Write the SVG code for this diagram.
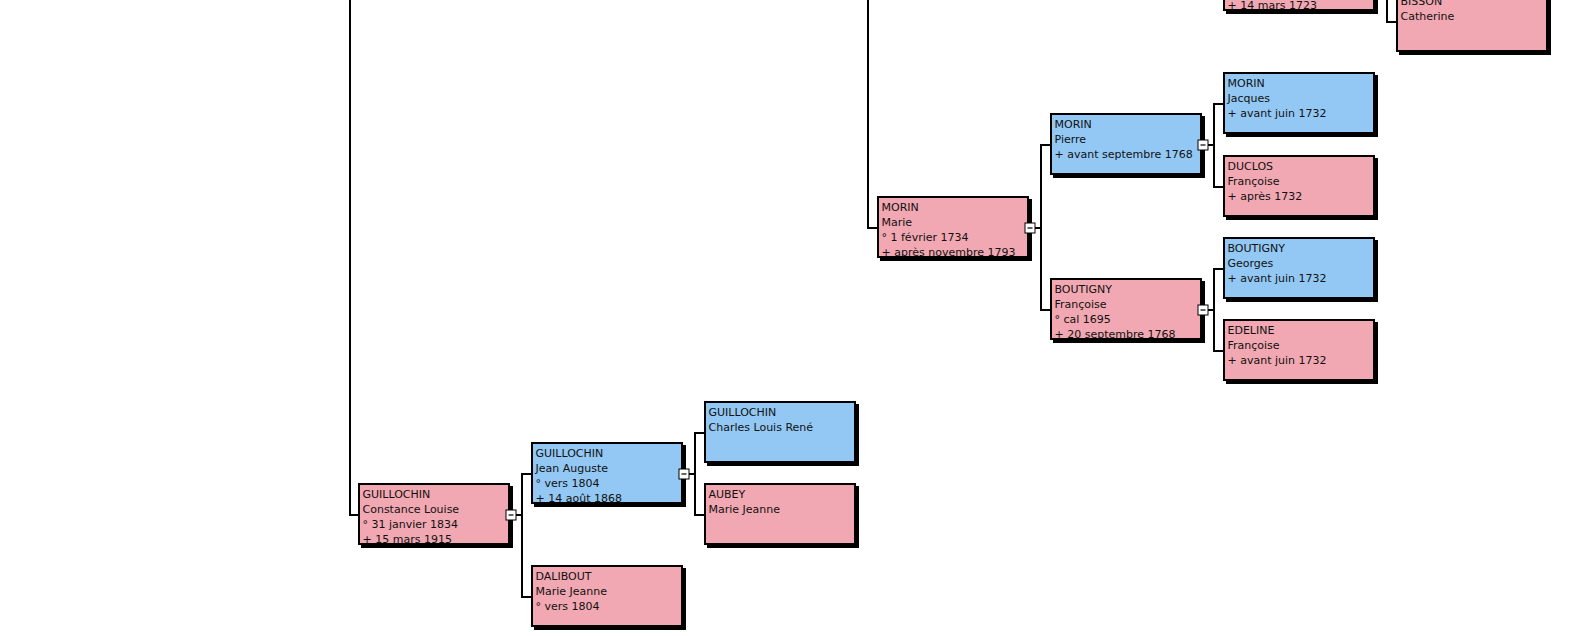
<svg xmlns="http://www.w3.org/2000/svg" width="1593" height="636" viewBox="0 0 1593 636">
<style>
.bg{fill:#ffffff}
.sh{fill:#000000}
.m{fill:#93C8F4;stroke:#000;stroke-width:2}
.f{fill:#F1A8B2;stroke:#000;stroke-width:2}
.t{font-family:"DejaVu Sans","Verdana",sans-serif;font-size:11px;fill:#111}
.conn{fill:none;stroke:#000;stroke-width:2}
.ic{fill:#fff;stroke:#000;stroke-width:1}
.icm{stroke:#000;stroke-width:1.2}
</style>
<defs>
<g id="icon">
<rect class="ic" x="-5" y="-5" width="10" height="10"/>
<line class="icm" x1="-2.5" y1="0" x2="2.5" y2="0"/>
</g>
</defs>
<rect class="bg" x="0" y="0" width="1593" height="636"/>
<g id="connectors">
<path class="conn" d="M350,-2 V515 H358"/>
<path class="conn" d="M516,515 H522 M531,474 H522 V597 H531"/>
<path class="conn" d="M689,474 H695 M704,433 H695 V515 H704"/>
<path class="conn" d="M868,-2 V228 H877"/>
<path class="conn" d="M1035,228 H1041 M1050,145 H1041 V310 H1050"/>
<path class="conn" d="M1208,145 H1214 M1223,104 H1214 V187 H1223"/>
<path class="conn" d="M1208,310 H1214 M1223,269 H1214 V351 H1223"/>
<path class="conn" d="M1387,-2 V22 H1396"/>
</g>
<g id="n-top" transform="translate(1223,-51)">
<rect class="sh" x="3" y="3" width="152" height="62"/>
<rect class="f" x="1" y="1" width="150" height="60"/>
<text class="t" x="4.5" y="60">+ 14 mars 1723</text>
</g>
<g id="n-bisson" transform="translate(1396,-10)">
<rect class="sh" x="3" y="3" width="152" height="62"/>
<rect class="f" x="1" y="1" width="150" height="60"/>
<text class="t" x="4.5" y="15">BISSON</text>
<text class="t" x="4.5" y="30">Catherine</text>
</g>
<g id="n-jacques" transform="translate(1223,72)">
<rect class="sh" x="3" y="3" width="152" height="62"/>
<rect class="m" x="1" y="1" width="150" height="60"/>
<text class="t" x="4.5" y="15">MORIN</text>
<text class="t" x="4.5" y="30">Jacques</text>
<text class="t" x="4.5" y="45">+ avant juin 1732</text>
</g>
<g id="n-pierre" transform="translate(1050,113)">
<rect class="sh" x="3" y="3" width="152" height="62"/>
<rect class="m" x="1" y="1" width="150" height="60"/>
<text class="t" x="4.5" y="15">MORIN</text>
<text class="t" x="4.5" y="30">Pierre</text>
<text class="t" x="4.5" y="45">+ avant septembre 1768</text>
<use href="#icon" x="153" y="32"/>
</g>
<g id="n-duclos" transform="translate(1223,155)">
<rect class="sh" x="3" y="3" width="152" height="62"/>
<rect class="f" x="1" y="1" width="150" height="60"/>
<text class="t" x="4.5" y="15">DUCLOS</text>
<text class="t" x="4.5" y="30">Françoise</text>
<text class="t" x="4.5" y="45">+ après 1732</text>
</g>
<g id="n-marie" transform="translate(877,196)">
<rect class="sh" x="3" y="3" width="152" height="62"/>
<rect class="f" x="1" y="1" width="150" height="60"/>
<text class="t" x="4.5" y="15">MORIN</text>
<text class="t" x="4.5" y="30">Marie</text>
<text class="t" x="4.5" y="45">° 1 février 1734</text>
<text class="t" x="4.5" y="59.5">+ après novembre 1793</text>
<use href="#icon" x="153" y="32"/>
</g>
<g id="n-georges" transform="translate(1223,237)">
<rect class="sh" x="3" y="3" width="152" height="62"/>
<rect class="m" x="1" y="1" width="150" height="60"/>
<text class="t" x="4.5" y="15">BOUTIGNY</text>
<text class="t" x="4.5" y="30">Georges</text>
<text class="t" x="4.5" y="45">+ avant juin 1732</text>
</g>
<g id="n-boutigny-francoise" transform="translate(1050,278)">
<rect class="sh" x="3" y="3" width="152" height="62"/>
<rect class="f" x="1" y="1" width="150" height="60"/>
<text class="t" x="4.5" y="15">BOUTIGNY</text>
<text class="t" x="4.5" y="30">Françoise</text>
<text class="t" x="4.5" y="45">° cal 1695</text>
<text class="t" x="4.5" y="59.5">+ 20 septembre 1768</text>
<use href="#icon" x="153" y="32"/>
</g>
<g id="n-edeline" transform="translate(1223,319)">
<rect class="sh" x="3" y="3" width="152" height="62"/>
<rect class="f" x="1" y="1" width="150" height="60"/>
<text class="t" x="4.5" y="15">EDELINE</text>
<text class="t" x="4.5" y="30">Françoise</text>
<text class="t" x="4.5" y="45">+ avant juin 1732</text>
</g>
<g id="n-charles" transform="translate(704,401)">
<rect class="sh" x="3" y="3" width="152" height="62"/>
<rect class="m" x="1" y="1" width="150" height="60"/>
<text class="t" x="4.5" y="15">GUILLOCHIN</text>
<text class="t" x="4.5" y="30">Charles Louis René</text>
</g>
<g id="n-jean" transform="translate(531,442)">
<rect class="sh" x="3" y="3" width="152" height="62"/>
<rect class="m" x="1" y="1" width="150" height="60"/>
<text class="t" x="4.5" y="15">GUILLOCHIN</text>
<text class="t" x="4.5" y="30">Jean Auguste</text>
<text class="t" x="4.5" y="45">° vers 1804</text>
<text class="t" x="4.5" y="59.5">+ 14 août 1868</text>
<use href="#icon" x="153" y="32"/>
</g>
<g id="n-aubey" transform="translate(704,483)">
<rect class="sh" x="3" y="3" width="152" height="62"/>
<rect class="f" x="1" y="1" width="150" height="60"/>
<text class="t" x="4.5" y="15">AUBEY</text>
<text class="t" x="4.5" y="30">Marie Jeanne</text>
</g>
<g id="n-constance" transform="translate(358,483)">
<rect class="sh" x="3" y="3" width="152" height="62"/>
<rect class="f" x="1" y="1" width="150" height="60"/>
<text class="t" x="4.5" y="15">GUILLOCHIN</text>
<text class="t" x="4.5" y="30">Constance Louise</text>
<text class="t" x="4.5" y="45">° 31 janvier 1834</text>
<text class="t" x="4.5" y="59.5">+ 15 mars 1915</text>
<use href="#icon" x="153" y="32"/>
</g>
<g id="n-dalibout" transform="translate(531,565)">
<rect class="sh" x="3" y="3" width="152" height="62"/>
<rect class="f" x="1" y="1" width="150" height="60"/>
<text class="t" x="4.5" y="15">DALIBOUT</text>
<text class="t" x="4.5" y="30">Marie Jeanne</text>
<text class="t" x="4.5" y="45">° vers 1804</text>
</g>
</svg>
